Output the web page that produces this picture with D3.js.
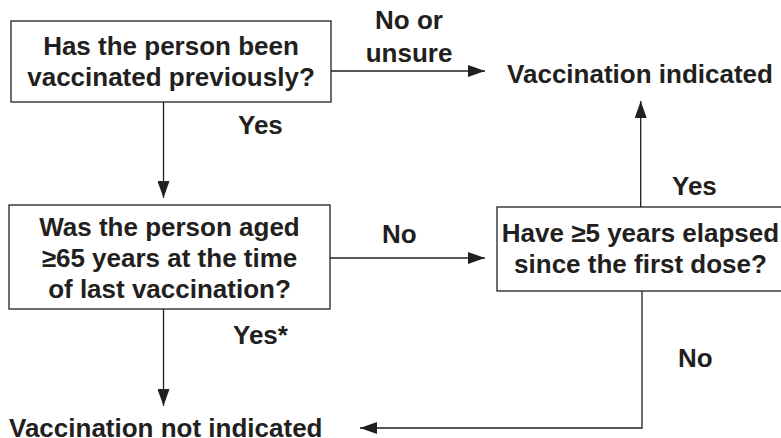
<!DOCTYPE html>
<meta charset="utf-8">
<script src="https://cdn.jsdelivr.net/npm/d3@7"></script>
<style>
  body { margin: 0; background: #fff; }
  text { font-family: "Liberation Sans", Arial, Helvetica, sans-serif; font-weight: bold; fill: #231f20; }
</style>
<div id="vis"></div>
<script>
// flowchart content
const questions = [
  ["Has the person been", "vaccinated previously?"],
  ["Was the person aged", "\u226565 years at the time", "of last vaccination?"],
  ["Have \u22655 years elapsed", "since the first dose?"]
]
const outcomes = ["Vaccination indicated", "Vaccination not indicated"]
const answers = [["No or", "unsure"], ["Yes"], ["No"], ["Yes*"], ["Yes"], ["No"]]

const width = 781, height = 438
const ink = "#231f20"
const fs = 26, lh = 31

// layout (pixels)
const boxes = [
  {x0: 11, x1: 331, y0: 21, y1: 102, base: 55},
  {x0: 9, x1: 330, y0: 205, y1: 309, base: 236},
  {x0: 497, x1: 784, y0: 207, y1: 291, base: 242}
]
const outPos = [
  {x: 640, y: 83, anchor: "middle"},
  {x: 9, y: 437, anchor: "start"}
]
const ansPos = [
  {x: 409, y: 29, anchor: "middle"},
  {x: 238, y: 134, anchor: "start"},
  {x: 382, y: 243, anchor: "start"},
  {x: 233, y: 344, anchor: "start"},
  {x: 672, y: 195, anchor: "start"},
  {x: 678, y: 367, anchor: "start"}
]
const arrows = [
  [[331, 71], [485, 71]],
  [[163.5, 102], [163.5, 198]],
  [[330, 258], [485, 258]],
  [[163.5, 309], [163.5, 406]],
  [[640.7, 207], [640.7, 101]],
  [[642, 291], [642, 428], [360, 428]]
]

const svg = d3.select("#vis").append("svg")
  .attr("width", width)
  .attr("height", height)

svg.append("defs").append("marker")
  .attr("id", "head")
  .attr("viewBox", "0 0 17 12")
  .attr("refX", 17).attr("refY", 6)
  .attr("markerWidth", 17).attr("markerHeight", 12)
  .attr("markerUnits", "userSpaceOnUse")
  .attr("orient", "auto")
  .append("path")
  .attr("d", "M0,0L17,6L0,12Z")
  .attr("fill", ink)

const line = d3.line()
svg.selectAll("path.edge")
  .data(arrows)
  .enter().append("path")
  .attr("class", "edge")
  .attr("d", line)
  .attr("fill", "none")
  .attr("stroke", ink)
  .attr("stroke-width", 1.3)
  .attr("marker-end", "url(#head)")

const g = svg.selectAll("g.box")
  .data(questions)
  .enter().append("g")
  .attr("class", "box")

g.append("rect")
  .attr("x", (d, i) => boxes[i].x0)
  .attr("y", (d, i) => boxes[i].y0)
  .attr("width", (d, i) => boxes[i].x1 - boxes[i].x0)
  .attr("height", (d, i) => boxes[i].y1 - boxes[i].y0)
  .attr("fill", "#fff")
  .attr("stroke", ink)
  .attr("stroke-width", 1.3)

g.each(function (d, i) {
  const b = boxes[i]
  d3.select(this).selectAll("text")
    .data(d)
    .enter().append("text")
    .attr("x", (b.x0 + b.x1) / 2)
    .attr("y", (t, j) => b.base + j * lh)
    .attr("text-anchor", "middle")
    .attr("font-size", fs)
    .text(t => t)
})

svg.selectAll("text.outcome")
  .data(outcomes)
  .enter().append("text")
  .attr("class", "outcome")
  .attr("x", (d, i) => outPos[i].x)
  .attr("y", (d, i) => outPos[i].y)
  .attr("text-anchor", (d, i) => outPos[i].anchor)
  .attr("font-size", fs)
  .text(d => d)

answers.forEach((lines, i) => {
  const p = ansPos[i]
  svg.selectAll(null)
    .data(lines)
    .enter().append("text")
    .attr("x", p.x)
    .attr("y", (t, j) => p.y + j * 33)
    .attr("text-anchor", p.anchor)
    .attr("font-size", fs)
    .text(t => t)
})
</script>
